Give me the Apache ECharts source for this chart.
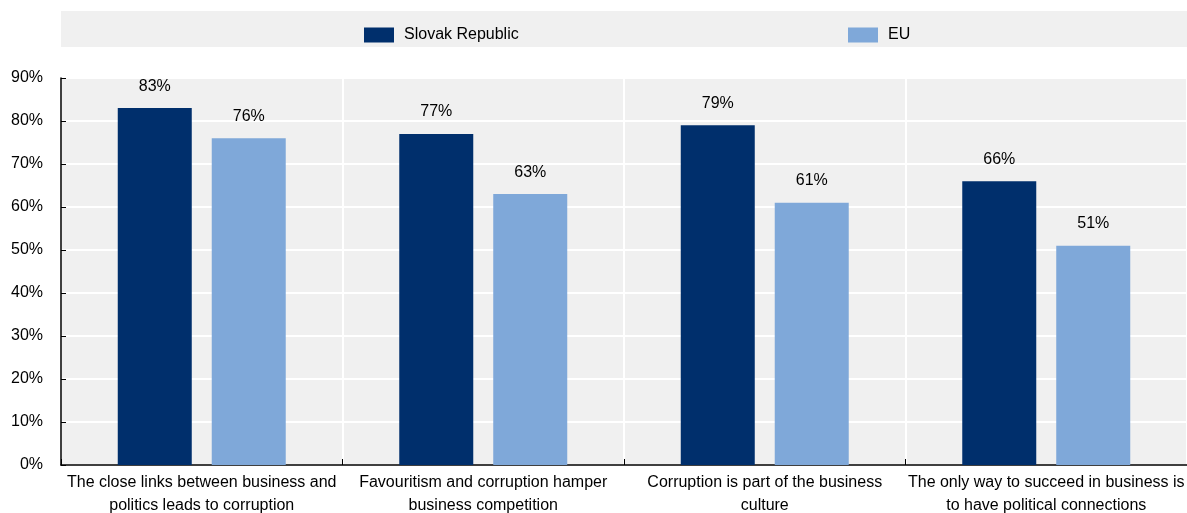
<!DOCTYPE html>
<html><head><meta charset="utf-8">
<script src="https://cdn.jsdelivr.net/npm/echarts@6/dist/echarts.min.js"></script>
<style>html,body{margin:0;padding:0;background:#fff}#c{width:1187px;height:513px}</style>
</head><body><div id="c"></div>
<script>
const categories = [
  "The close links between business and\npolitics leads to corruption",
  "Favouritism and corruption hamper\nbusiness competition",
  "Corruption is part of the business\nculture",
  "The only way to succeed in business is\nto have political connections"
];
const slovak = [83, 77, 79, 66];
const eu = [76, 63, 61, 51];
const seriesNames = ["Slovak Republic", "EU"];
const FONT = "'Liberation Sans Narrow','Arial Narrow','Liberation Sans',sans-serif";
const chart = echarts.init(document.getElementById('c'));
const lbl = {show:true, position:'top', distance:14, formatter:'{c}%', color:'#000', fontFamily:FONT, fontSize:16};
const legText = {fontFamily:"'Liberation Sans',Arial,sans-serif", fontSize:16, color:'#000', padding:[0,0,0,5]};
chart.setOption({
  animation:false,
  graphic:[{type:'rect', left:61, top:11, shape:{width:1126, height:36}, style:{fill:'#f0f0f0'}, z:-10}],
  legend:[
    {data:[seriesNames[0]], left:359, top:22, itemWidth:30, itemHeight:15, textStyle:legText, icon:'rect'},
    {data:[seriesNames[1]], left:843, top:22, itemWidth:30, itemHeight:15, textStyle:legText, icon:'rect'}
  ],
  grid:{left:61, right:0, top:78, bottom:48, outerBoundsMode:'none', containLabel:false,
    backgroundColor:'#f0f0f0', show:true, borderWidth:0},
  xAxis:{type:'category', data:categories, boundaryGap:true,
    axisLine:{lineStyle:{color:'#000', width:1.5}},
    axisTick:{show:true, inside:true, length:6, lineStyle:{color:'#000'}},
    splitLine:{show:true, lineStyle:{color:'#fff', width:2}},
    axisLabel:{color:'#000', fontFamily:FONT, fontSize:16, lineHeight:23, margin:6, interval:0}},
  yAxis:{type:'value', min:0, max:90, interval:10,
    axisLine:{show:true, lineStyle:{color:'#000', width:1.5}},
    axisTick:{show:true, inside:true, length:5, lineStyle:{color:'#000'}},
    splitLine:{show:true, lineStyle:{color:'#fff', width:2}},
    axisLabel:{formatter:'{value}%', color:'#000', fontFamily:FONT, fontSize:16, margin:18}},
  series:[
    {name:seriesNames[0], type:'bar', data:slovak, barWidth:74, barGap:'27%', itemStyle:{color:'#002F6C'}, label:lbl},
    {name:seriesNames[1], type:'bar', data:eu, barWidth:74, itemStyle:{color:'#7FA8D9'}, label:lbl}
  ]
});
</script></body></html>
